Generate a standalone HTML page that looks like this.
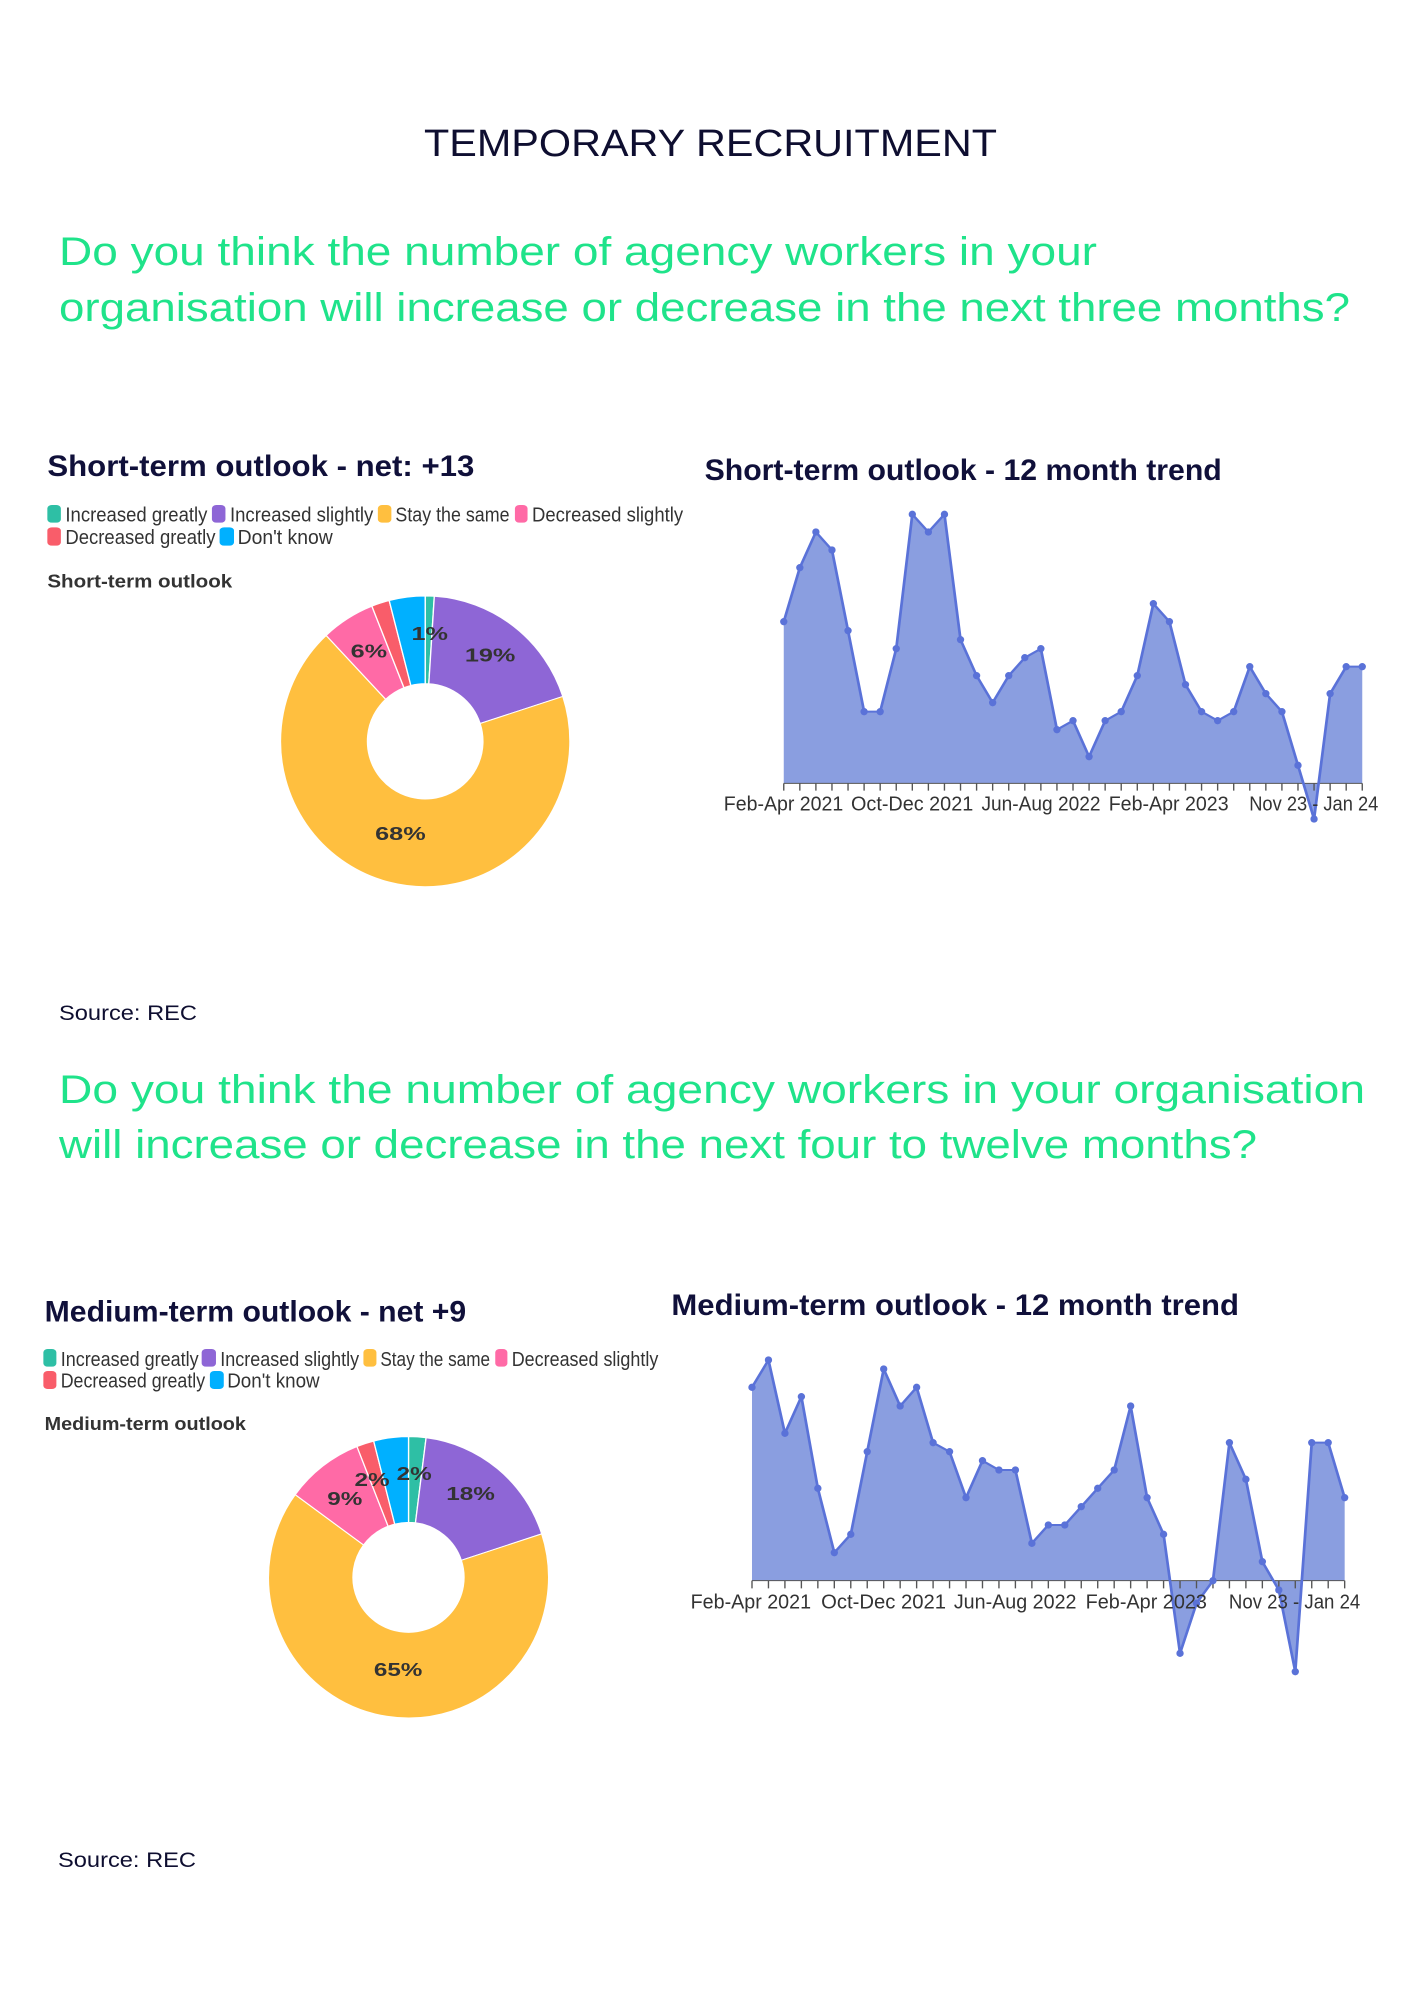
<!DOCTYPE html>
<html><head><meta charset="utf-8"><style>
html,body{margin:0;padding:0;background:#fff;}
svg{position:absolute;overflow:visible;}
text{font-family:"Liberation Sans",sans-serif;}
</style></head><body>
<svg style="left:0;top:0" width="1414" height="2000" viewBox="0 0 1414 2000">
<text x="424" y="156" font-size="38" fill="#0e0e30" textLength="573" lengthAdjust="spacingAndGlyphs">TEMPORARY RECRUITMENT</text>
<g fill="#1fe38a" font-size="40">
<text x="59" y="265" textLength="1038" lengthAdjust="spacingAndGlyphs">Do you think the number of agency workers in your</text>
<text x="59" y="321" textLength="1291" lengthAdjust="spacingAndGlyphs">organisation will increase or decrease in the next three months?</text>
<text x="59" y="1103" textLength="1306" lengthAdjust="spacingAndGlyphs">Do you think the number of agency workers in your organisation</text>
<text x="59" y="1158" textLength="1198" lengthAdjust="spacingAndGlyphs">will increase or decrease in the next four to twelve months?</text>
</g>
<text x="59" y="1020" font-size="21" fill="#0e0e30" textLength="138" lengthAdjust="spacingAndGlyphs">Source: REC</text>
<text x="58" y="1867" font-size="21" fill="#0e0e30" textLength="138" lengthAdjust="spacingAndGlyphs">Source: REC</text>
</svg>

<!-- short donut -->
<svg id="d1" style="left:0;top:400" width="707" height="500" viewBox="0 0 1568 1500" preserveAspectRatio="none">
<text x="105" y="228" font-size="88" font-weight="bold" fill="#10103a" textLength="947" lengthAdjust="spacingAndGlyphs">Short-term outlook - net: +13</text>
<g font-size="62" fill="#333">
<rect x="105" y="315" width="30" height="53" rx="10" fill="#2ebfa5"/><text x="145" y="365" textLength="315" lengthAdjust="spacingAndGlyphs">Increased greatly</text>
<rect x="470" y="315" width="30" height="53" rx="10" fill="#8e66d6"/><text x="510" y="365" textLength="318" lengthAdjust="spacingAndGlyphs">Increased slightly</text>
<rect x="838" y="315" width="30" height="53" rx="10" fill="#ffbf3f"/><text x="877" y="365" textLength="253" lengthAdjust="spacingAndGlyphs">Stay the same</text>
<rect x="1142" y="315" width="28" height="53" rx="10" fill="#ff6aa6"/><text x="1180" y="365" textLength="335" lengthAdjust="spacingAndGlyphs">Decreased slightly</text>
<rect x="105" y="382" width="30" height="55" rx="10" fill="#f95d6a"/><text x="145" y="432" textLength="333" lengthAdjust="spacingAndGlyphs">Decreased greatly</text>
<rect x="487" y="382" width="32" height="55" rx="10" fill="#00b0ff"/><text x="527" y="432" textLength="211" lengthAdjust="spacingAndGlyphs">Don't know</text>
</g>
<text x="105" y="563" font-size="56" font-weight="bold" fill="#333" textLength="410" lengthAdjust="spacingAndGlyphs">Short-term outlook</text>
<g class="slices"></g>
<g font-size="56" font-weight="bold" fill="#333" text-anchor="middle">
<text x="953" y="720">1%</text><text x="1087" y="785">19%</text><text x="818" y="772">6%</text><text x="888" y="1320">68%</text>
</g>
</svg>

<!-- medium donut -->
<svg id="d2" style="left:0;top:1270" width="680" height="460" viewBox="0 0 1568 1380" preserveAspectRatio="none">
<text x="103" y="155" font-size="88" font-weight="bold" fill="#10103a" textLength="972" lengthAdjust="spacingAndGlyphs">Medium-term outlook - net +9</text>
<g font-size="62" fill="#333">
<rect x="100" y="237" width="30" height="53" rx="10" fill="#2ebfa5"/><text x="140" y="288" textLength="318" lengthAdjust="spacingAndGlyphs">Increased greatly</text>
<rect x="465" y="237" width="33" height="53" rx="10" fill="#8e66d6"/><text x="508" y="288" textLength="320" lengthAdjust="spacingAndGlyphs">Increased slightly</text>
<rect x="838" y="237" width="30" height="53" rx="10" fill="#ffbf3f"/><text x="877" y="288" textLength="253" lengthAdjust="spacingAndGlyphs">Stay the same</text>
<rect x="1142" y="237" width="28" height="53" rx="10" fill="#ff6aa6"/><text x="1180" y="288" textLength="338" lengthAdjust="spacingAndGlyphs">Decreased slightly</text>
<rect x="100" y="303" width="30" height="54" rx="10" fill="#f95d6a"/><text x="140" y="353" textLength="333" lengthAdjust="spacingAndGlyphs">Decreased greatly</text>
<rect x="484" y="303" width="32" height="54" rx="10" fill="#00b0ff"/><text x="524" y="353" textLength="213" lengthAdjust="spacingAndGlyphs">Don't know</text>
</g>
<text x="103" y="480" font-size="56" font-weight="bold" fill="#333" textLength="464" lengthAdjust="spacingAndGlyphs">Medium-term outlook</text>
<g class="slices"></g>
<g font-size="56" font-weight="bold" fill="#333" text-anchor="middle">
<text x="955" y="630">2%</text><text x="1085" y="690">18%</text><text x="858" y="648">2%</text><text x="795" y="705">9%</text><text x="918" y="1218">65%</text>
</g>
</svg>

<!-- short trend -->
<svg id="t1" style="left:700;top:420" width="714" height="420" viewBox="0 0 1560 1260" preserveAspectRatio="none">
<text x="10" y="180" font-size="88" font-weight="bold" fill="#10103a" textLength="1130" lengthAdjust="spacingAndGlyphs">Short-term outlook - 12 month trend</text>
<g class="area"></g>
<g font-size="60" fill="#333">
<text x="52" y="1172" textLength="261" lengthAdjust="spacingAndGlyphs">Feb-Apr 2021</text>
<text x="330" y="1172" textLength="267" lengthAdjust="spacingAndGlyphs">Oct-Dec 2021</text>
<text x="615" y="1172" textLength="260" lengthAdjust="spacingAndGlyphs">Jun-Aug 2022</text>
<text x="893" y="1172" textLength="262" lengthAdjust="spacingAndGlyphs">Feb-Apr 2023</text>
<text x="1200" y="1172" textLength="282" lengthAdjust="spacingAndGlyphs">Nov 23 - Jan 24</text>
</g>
</svg>

<!-- medium trend -->
<svg id="t2" style="left:660;top:1270" width="714" height="420" viewBox="0 0 1560 1260" preserveAspectRatio="none">
<text x="25" y="135" font-size="88" font-weight="bold" fill="#10103a" textLength="1240" lengthAdjust="spacingAndGlyphs">Medium-term outlook - 12 month trend</text>
<g class="area"></g>
<g font-size="60" fill="#333">
<text x="67" y="1015" textLength="263" lengthAdjust="spacingAndGlyphs">Feb-Apr 2021</text>
<text x="352" y="1015" textLength="273" lengthAdjust="spacingAndGlyphs">Oct-Dec 2021</text>
<text x="642" y="1015" textLength="268" lengthAdjust="spacingAndGlyphs">Jun-Aug 2022</text>
<text x="930" y="1015" textLength="265" lengthAdjust="spacingAndGlyphs">Feb-Apr 2023</text>
<text x="1243" y="1015" textLength="287" lengthAdjust="spacingAndGlyphs">Nov 23 - Jan 24</text>
</g>
</svg>

<script>
var NS="http://www.w3.org/2000/svg";
var COLS=["#2ebfa5","#8e66d6","#ffbf3f","#ff6aa6","#f95d6a","#00b0ff"];
function donut(id,cx,cy,rx,ry,irx,iry,vals){
  var g=document.querySelector("#"+id+" .slices");var a0=0,tot=0;vals.forEach(function(v){tot+=v;});
  vals.forEach(function(v,i){
    var a1=a0+v/tot*2*Math.PI;var big=(a1-a0)>Math.PI?1:0;
    function P(a,X,Y){return (cx+X*Math.sin(a)).toFixed(1)+","+(cy-Y*Math.cos(a)).toFixed(1);}
    var d="M"+P(a0,rx,ry)+" A"+rx+","+ry+" 0 "+big+" 1 "+P(a1,rx,ry)+" L"+P(a1,irx,iry)+" A"+irx+","+iry+" 0 "+big+" 0 "+P(a0,irx,iry)+"Z";
    var p=document.createElementNS(NS,"path");p.setAttribute("d",d);p.setAttribute("fill",COLS[i]);
    p.setAttribute("stroke","#fff");p.setAttribute("stroke-width","3");g.appendChild(p);a0=a1;});
}
donut("d1",943,1024,321,436,128,173,[1,19,68,6,2,4]);
donut("d2",942,922,323,422,128,165,[2,18,65,9,2,4]);
function area(id,x0,step,base,ys,tickLen){
  var g=document.querySelector("#"+id+" .area");var pts=ys.map(function(y,i){return [x0+step*i,y];});
  var xe=pts[pts.length-1][0];
  var poly=document.createElementNS(NS,"path");
  poly.setAttribute("d","M"+x0+","+base+" L"+pts.map(function(p){return p.join(",");}).join(" L")+" L"+xe+","+base+"Z");
  poly.setAttribute("fill","#8a9ee0");g.appendChild(poly);
  var ax=document.createElementNS(NS,"path");var d="M"+x0+","+base+" H"+xe;
  pts.forEach(function(p){d+=" M"+p[0]+","+base+" v"+tickLen;});
  ax.setAttribute("d",d);ax.setAttribute("stroke","#555");ax.setAttribute("stroke-width","3");g.appendChild(ax);
  var ln=document.createElementNS(NS,"polyline");ln.setAttribute("points",pts.map(function(p){return p.join(",");}).join(" "));
  ln.setAttribute("fill","none");ln.setAttribute("stroke","#5a72d8");ln.setAttribute("stroke-width","6");g.appendChild(ln);
  pts.forEach(function(p){var e=document.createElementNS(NS,"ellipse");e.setAttribute("cx",p[0]);e.setAttribute("cy",p[1]);
    e.setAttribute("rx",8);e.setAttribute("ry",11);e.setAttribute("fill","#5a72d8");g.appendChild(e);});
}
area("t1",183,35.11,1090,[605,443,336,390,632,875,875,686,283,336,283,659,767,848,767,713,686,929,902,1010,902,875,767,551,605,794,875,902,875,740,821,875,1036,1197,821,740,740],22);
area("t2",201,35.97,932,[352,270,490,380,655,848,793,545,297,408,352,518,545,683,572,600,600,820,765,765,710,655,600,408,683,793,1150,1000,932,518,628,875,960,1205,518,518,683],23);
</script>
</body></html>
